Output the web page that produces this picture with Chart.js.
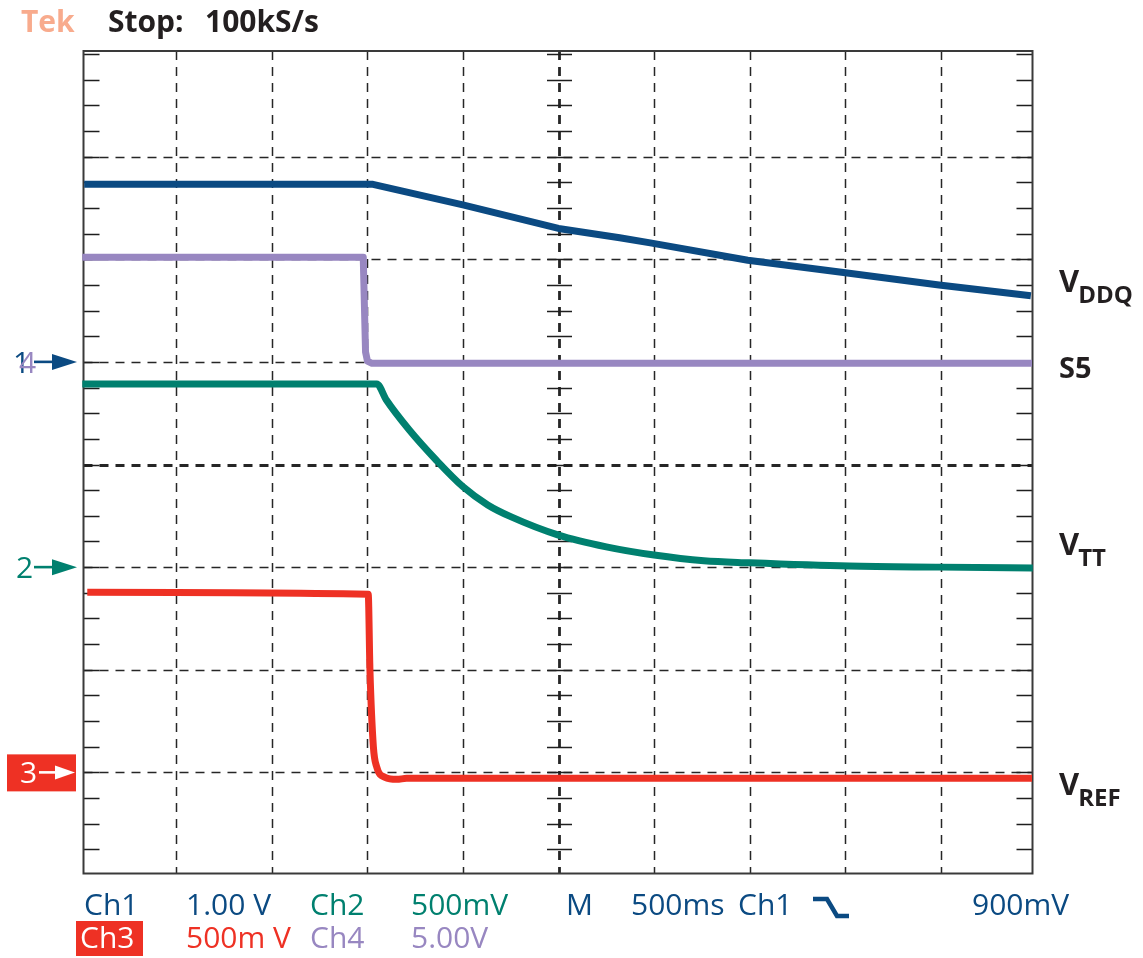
<!DOCTYPE html>
<html>
<head>
<meta charset="utf-8">
<title>DDR rail power-down (S5)</title>
<script src="https://cdn.jsdelivr.net/npm/chart.js@4/dist/chart.umd.min.js"></script>
<style>
  html, body { margin: 0; padding: 0; background: #ffffff; }
  canvas { display: block; }
</style>
</head>
<body>
<canvas id="scope" width="1143" height="958"></canvas>
<script>
// ---- Captured waveforms (time in seconds from left edge of screen, values in volts) ----
const vddqTime  = [0.02, 1.53, 2.00, 2.50, 2.82, 2.98, 3.49, 3.99, 4.49, 4.97];
const vddqVolts = [1.73, 1.73, 1.53, 1.30, 1.21, 1.16, 0.99, 0.87, 0.75, 0.645];

const vttTime  = [0.01, 1.55, 1.60, 1.72, 1.86, 2.00, 2.13, 2.25, 2.50, 2.75, 3.00, 3.26, 3.50, 4.02, 4.50, 4.98];
const vttVolts = [0.892, 0.892, 0.814, 0.668, 0.522, 0.392, 0.303, 0.246, 0.156, 0.099, 0.059, 0.031, 0.021, 0.005, 0.0, -0.004];

const vrefTime  = [0.036, 1.505, 1.514, 1.532, 1.549, 1.593, 1.654, 1.706, 4.976];
const vrefVolts = [0.878, 0.868, 0.499, 0.125, 0.028, -0.024, -0.034, -0.029, -0.029];

const s5Time  = [0.01, 1.479, 1.491, 1.501, 1.525, 4.976];
const s5Volts = [5.10, 5.10, 0.48, 0.04, -0.07, -0.07];

// ---- Channel settings ----
const channelNames  = ['Ch1', 'Ch2', 'Ch3', 'Ch4'];
const signalNames   = ['VDDQ', 'VTT', 'VREF', 'S5'];
const voltsPerDiv   = [1.00, 0.50, 0.50, 5.00];
const groundDiv     = [1, -1, -3, 1];
const channelColors = ['#0b4a82', '#00806f', '#ee3124', '#9887c1'];

// ---- Horizontal settings ----
const secondsPerDiv = 0.5;
const divisionsX = 10;
const divisionsY = 8;

// ---- Readout strings ----
const headerBrand = 'Tek';
const headerState = 'Stop:';
const headerRate  = '100kS/s';
const scaleText   = ['1.00 V', '500mV', '500m V', '5.00V'];
const timebaseText = '500ms';
const triggerSource = 'Ch1';
const triggerLevel  = '900mV';

const FONT = '"Open Sans", "Noto Sans", "DejaVu Sans", sans-serif';

function toDivisions(times, volts, ch) {
  return times.map((t, i) => ({ x: t, y: volts[i] / voltsPerDiv[ch] + groundDiv[ch] }));
}

// Graticule: frame, dashed divisions, centre cross and minor ticks
const graticule = {
  id: 'graticule',
  beforeDatasetsDraw(chart) {
    const { ctx, scales: { x, y } } = chart;
    const L = 83.5, R = 1032.5, T = 51, B = 873.5;
    ctx.save();
    ctx.strokeStyle = '#262626';
    ctx.setLineDash([9, 7]);
    for (let k = 1; k < divisionsX; k++) {
      const px = Math.round(x.getPixelForValue(k * secondsPerDiv)) + 0.5;
      ctx.lineWidth = (k === divisionsX / 2) ? 2.8 : 1.5;
      ctx.beginPath(); ctx.moveTo(px, T); ctx.lineTo(px, B); ctx.stroke();
    }
    for (let d = -divisionsY / 2 + 1; d < divisionsY / 2; d++) {
      const py = Math.round(y.getPixelForValue(d)) + 0.5;
      ctx.lineWidth = (d === 0) ? 2.8 : 1.5;
      ctx.beginPath(); ctx.moveTo(L, py); ctx.lineTo(R, py); ctx.stroke();
    }
    ctx.setLineDash([]);
    // minor ticks every quarter division on the frame sides and centre vertical
    const cx = Math.round(x.getPixelForValue(divisionsX / 2 * secondsPerDiv)) + 0.5;
    ctx.strokeStyle = '#1e1e1e';
    ctx.lineWidth = 1.7;
    for (let q = -divisionsY * 2; q <= divisionsY * 2; q++) {
      const py = Math.round(y.getPixelForValue(q / 4)) + 0.5;
      if (py < T + 2 || py > B - 1) continue;
      ctx.beginPath();
      ctx.moveTo(L, py); ctx.lineTo(L + 16, py);
      ctx.moveTo(R - 16, py); ctx.lineTo(R, py);
      ctx.moveTo(cx - 12.5, py); ctx.lineTo(cx + 12.5, py);
      ctx.stroke();
    }
    // frame
    ctx.strokeStyle = '#3a3a3a';
    ctx.lineWidth = 2;
    ctx.strokeRect(L, T, R - L, B - T);
    ctx.restore();
  },
  afterDraw(chart) {
    const { ctx, scales: { y } } = chart;
    ctx.save();
    ctx.textBaseline = 'alphabetic';

    // header
    ctx.font = 'bold 30px ' + FONT;
    ctx.fillStyle = '#f8ab8d';
    ctx.fillText(headerBrand, 21, 32);
    ctx.fillStyle = '#231f20';
    ctx.fillText(headerState, 108, 32);
    ctx.fillText(headerRate, 205, 32);

    // ground reference markers
    const arrow = (x0, yc, color, lineStart) => {
      ctx.strokeStyle = color; ctx.fillStyle = color; ctx.lineWidth = 2.6;
      ctx.beginPath(); ctx.moveTo(lineStart, yc); ctx.lineTo(x0 + 3, yc); ctx.stroke();
      ctx.beginPath(); ctx.moveTo(x0, yc - 8); ctx.lineTo(x0 + 25, yc); ctx.lineTo(x0, yc + 8); ctx.closePath(); ctx.fill();
    };
    ctx.font = '30px ' + FONT;
    const y1 = y.getPixelForValue(groundDiv[0]);
    ctx.fillStyle = channelColors[0]; ctx.fillText('1', 13, y1 + 11);
    ctx.fillStyle = channelColors[3]; ctx.fillText('4', 19, y1 + 11);
    arrow(52, y1, channelColors[0], 34);
    const y2 = y.getPixelForValue(groundDiv[1]);
    ctx.fillStyle = channelColors[1]; ctx.fillText('2', 16, y2 + 11);
    arrow(52, y2, channelColors[1], 34);
    const y3 = y.getPixelForValue(groundDiv[2]);
    ctx.fillStyle = channelColors[2];
    ctx.fillRect(7, y3 - 18, 69, 37);
    ctx.fillStyle = '#ffffff'; ctx.fillText('3', 20, y3 + 11);
    ctx.strokeStyle = '#ffffff'; ctx.fillStyle = '#ffffff'; ctx.lineWidth = 2.6;
    ctx.beginPath(); ctx.moveTo(39, y3); ctx.lineTo(58, y3); ctx.stroke();
    ctx.beginPath(); ctx.moveTo(55, y3 - 7); ctx.lineTo(75, y3); ctx.lineTo(55, y3 + 7); ctx.closePath(); ctx.fill();

    // trace names on the right, with subscripts
    ctx.fillStyle = '#231f20';
    const named = (main, sub, xx, base) => {
      ctx.font = 'bold 31px ' + FONT;
      ctx.fillText(main, xx, base);
      if (sub) {
        const w = ctx.measureText(main).width;
        ctx.font = 'bold 24px ' + FONT;
        ctx.fillText(sub, xx + w - 1, base + 11);
      }
    };
    named('V', signalNames[0].slice(1), 1059, 292);
    ctx.font = 'bold 29px ' + FONT; ctx.fillText(signalNames[3], 1059, 378);
    named('V', signalNames[1].slice(1), 1059, 555);
    named('V', signalNames[2].slice(1), 1059, 795);

    // readout, row 1
    ctx.font = '30px ' + FONT;
    const row1 = 915, row2 = 948;
    ctx.fillStyle = channelColors[0];
    ctx.fillText(channelNames[0], 84, row1);
    ctx.fillText(scaleText[0], 186, row1);
    ctx.fillStyle = channelColors[1];
    ctx.fillText(channelNames[1], 310, row1);
    ctx.fillText(scaleText[1], 411, row1);
    ctx.fillStyle = channelColors[0];
    ctx.fillText('M', 566, row1);
    ctx.fillText(timebaseText, 631, row1);
    ctx.fillText(triggerSource, 738, row1);
    ctx.fillText(triggerLevel, 972, row1);
    // falling-edge trigger glyph
    ctx.strokeStyle = channelColors[0]; ctx.lineWidth = 4.5; ctx.lineJoin = 'miter';
    ctx.beginPath();
    ctx.moveTo(813, 899); ctx.lineTo(827, 899); ctx.lineTo(837, 916); ctx.lineTo(849, 916);
    ctx.stroke();

    // readout, row 2
    ctx.fillStyle = channelColors[2];
    ctx.fillRect(76, 921, 67, 35);
    ctx.fillStyle = '#ffffff';
    ctx.fillText(channelNames[2], 80, row2);
    ctx.fillStyle = channelColors[2];
    ctx.fillText(scaleText[2], 186, row2);
    ctx.fillStyle = channelColors[3];
    ctx.fillText(channelNames[3], 310, row2);
    ctx.fillText(scaleText[3], 411, row2);
    ctx.restore();
  }
};

function build() {
  const series = [
    { times: vddqTime, volts: vddqVolts, ch: 0, smooth: false },
    { times: vttTime,  volts: vttVolts,  ch: 1, smooth: true },
    { times: vrefTime, volts: vrefVolts, ch: 2, smooth: true },
    { times: s5Time,   volts: s5Volts,   ch: 3, smooth: false }
  ];
  const datasets = series.map(s => ({
    label: signalNames[s.ch],
    data: toDivisions(s.times, s.volts, s.ch),
    borderColor: channelColors[s.ch],
    borderWidth: 7,
    pointRadius: 0,
    tension: 0,
    cubicInterpolationMode: s.smooth ? 'monotone' : 'default',
    borderJoinStyle: 'round',
    borderCapStyle: 'butt',
    fill: false,
    clip: false
  }));

  new Chart(document.getElementById('scope'), {
    type: 'line',
    data: { datasets },
    options: {
      responsive: false,
      animation: false,
      devicePixelRatio: 1,
      layout: { padding: { left: 80.4, right: 106.4, top: 54, bottom: 83 } },
      scales: {
        x: { type: 'linear', min: 0, max: divisionsX * secondsPerDiv, display: false },
        y: { type: 'linear', min: -divisionsY / 2, max: divisionsY / 2, display: false }
      },
      plugins: { legend: { display: false }, tooltip: { enabled: false } }
    },
    plugins: [graticule]
  });
}

Promise.all([
  document.fonts.load('30px "Open Sans"'),
  document.fonts.load('bold 30px "Open Sans"')
]).then(build, build);
</script>
</body>
</html>
